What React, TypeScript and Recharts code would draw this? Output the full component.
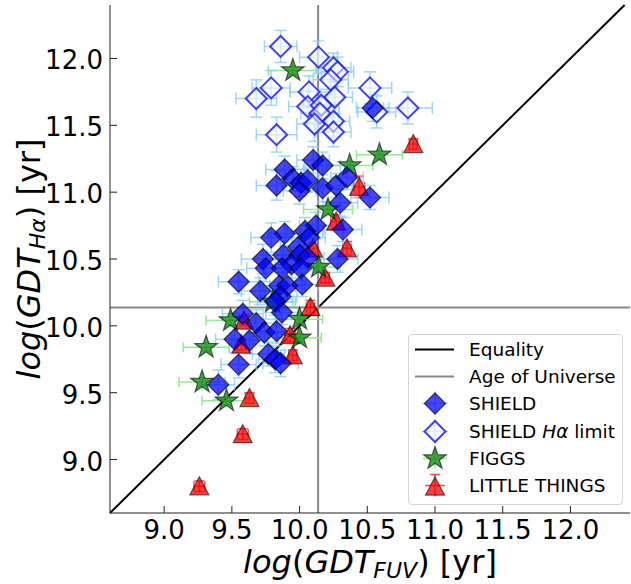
import React from "react";
import { ScatterChart, Scatter, XAxis, YAxis, ErrorBar, ReferenceLine, Legend } from "recharts";

const FONT = "DejaVu Sans, Verdana, sans-serif";

const xDomain = [8.6, 12.44];
const yDomain = [8.6, 12.4];
const xTicks = [9.0, 9.5, 10.0, 10.5, 11.0, 11.5, 12.0];
const yTicks = [9.0, 9.5, 10.0, 10.5, 11.0, 11.5, 12.0];
const ageOfUniverse = 10.137;
const equalityStart = { x: 8.6, y: 8.6 };
const equalityEnd = { x: 12.4, y: 12.4 };

// [logGDT_FUV, logGDT_Ha, errFUV, errHa]
const shield: number[][] = [
  [10.10, 11.24, 0.12, 0.10], [10.17, 11.20, 0.13, 0.10], [9.89, 11.17, 0.14, 0.10],
  [9.95, 11.10, 0.12, 0.09], [10.01, 11.07, 0.13, 0.10], [9.83, 11.05, 0.15, 0.11],
  [10.00, 11.01, 0.12, 0.10], [10.06, 11.09, 0.11, 0.09], [10.17, 11.03, 0.13, 0.10],
  [10.27, 11.05, 0.12, 0.09], [10.35, 11.11, 0.12, 0.09], [10.52, 10.96, 0.14, 0.09],
  [10.30, 10.92, 0.13, 0.10], [10.54, 11.63, 0.12, 0.10], [10.32, 10.72, 0.14, 0.09],
  [10.12, 10.75, 0.12, 0.10], [10.04, 10.71, 0.13, 0.10], [9.89, 10.69, 0.12, 0.09],
  [9.79, 10.66, 0.15, 0.11], [10.07, 10.66, 0.12, 0.10], [9.99, 10.59, 0.13, 0.10],
  [9.88, 10.53, 0.12, 0.10], [9.73, 10.50, 0.16, 0.11], [10.00, 10.53, 0.12, 0.10],
  [10.06, 10.51, 0.12, 0.09], [9.75, 10.43, 0.14, 0.10], [10.28, 10.50, 0.15, 0.10],
  [9.94, 10.46, 0.12, 0.10], [9.87, 10.43, 0.13, 0.10], [10.01, 10.43, 0.12, 0.09],
  [9.55, 10.33, 0.15, 0.09], [9.71, 10.26, 0.14, 0.10], [9.85, 10.30, 0.12, 0.10],
  [9.91, 10.30, 0.13, 0.10], [10.02, 10.31, 0.12, 0.09], [9.86, 10.22, 0.12, 0.10],
  [9.82, 10.18, 0.13, 0.10], [9.87, 10.10, 0.12, 0.09], [9.58, 10.09, 0.15, 0.10],
  [9.68, 10.02, 0.14, 0.10], [9.74, 9.95, 0.13, 0.10], [9.83, 9.96, 0.12, 0.09],
  [9.52, 9.90, 0.14, 0.10], [9.63, 9.89, 0.13, 0.10], [9.77, 9.79, 0.12, 0.09],
  [9.82, 9.75, 0.12, 0.10], [9.86, 9.72, 0.13, 0.10], [9.55, 9.71, 0.13, 0.10],
  [9.40, 9.56, 0.12, 0.11],
];

const shieldLimit: number[][] = [
  [9.86, 12.09, 0.12, 0.12], [10.14, 12.01, 0.14, 0.12], [10.25, 11.93, 0.13, 0.11],
  [10.28, 11.90, 0.12, 0.11], [10.23, 11.84, 0.13, 0.11], [9.79, 11.78, 0.14, 0.13],
  [9.68, 11.70, 0.15, 0.14], [10.07, 11.75, 0.14, 0.12], [10.26, 11.71, 0.13, 0.12],
  [10.52, 11.78, 0.16, 0.12], [10.06, 11.64, 0.14, 0.12], [10.16, 11.65, 0.13, 0.12],
  [10.15, 11.59, 0.14, 0.12], [10.11, 11.51, 0.13, 0.13], [10.25, 11.53, 0.12, 0.12],
  [10.25, 11.45, 0.13, 0.11], [9.83, 11.43, 0.15, 0.13], [10.80, 11.63, 0.18, 0.12],
  [10.57, 11.60, 0.14, 0.12],
];

const figgs: number[][] = [
  [9.95, 11.91, 0.18, 0.03], [10.59, 11.28, 0.17, 0.03], [10.37, 11.20, 0.17, 0.03],
  [10.21, 10.87, 0.18, 0.03], [10.14, 10.44, 0.16, 0.03], [9.80, 10.18, 0.17, 0.03],
  [9.49, 10.04, 0.18, 0.03], [10.00, 10.05, 0.17, 0.03], [10.00, 9.91, 0.16, 0.03],
  [9.31, 9.84, 0.17, 0.03], [9.28, 9.58, 0.17, 0.03], [9.46, 9.44, 0.18, 0.03],
];

const littleThings: number[][] = [
  [10.84, 11.36, 0.03, 0.04], [10.44, 11.04, 0.04, 0.08], [10.27, 10.78, 0.04, 0.05],
  [10.35, 10.58, 0.03, 0.05], [10.10, 10.58, 0.03, 0.04], [10.19, 10.36, 0.03, 0.04],
  [10.08, 10.14, 0.03, 0.05], [9.93, 9.93, 0.04, 0.05], [9.95, 9.78, 0.03, 0.04],
  [9.57, 9.86, 0.03, 0.04], [9.59, 10.04, 0.03, 0.04], [9.63, 9.46, 0.03, 0.04],
  [9.58, 9.19, 0.04, 0.04], [9.26, 8.80, 0.04, 0.04],
];

const toPoints = (rows: number[][]) => rows.map(([x, y, ex, ey]) => ({ x, y, ex, ey }));

const diamondPath = (cx: number, cy: number, r: number) =>
  `M${cx},${cy - r}L${cx + r},${cy}L${cx},${cy + r}L${cx - r},${cy}Z`;

const starPath = (cx: number, cy: number, R: number) => {
  const r = R * 0.39;
  let d = "";
  for (let i = 0; i < 10; i++) {
    const rad = i % 2 === 0 ? R : r;
    const a = (-90 + i * 36) * (Math.PI / 180);
    d += `${i === 0 ? "M" : "L"}${cx + rad * Math.cos(a)},${cy + rad * Math.sin(a)}`;
  }
  return d + "Z";
};

const trianglePath = (cx: number, cy: number, r: number) =>
  `M${cx},${cy - r}L${cx + r},${cy + r * 0.9}L${cx - r},${cy + r * 0.9}Z`;

const FilledDiamond = ({ cx, cy }: any) => (
  <path d={diamondPath(cx, cy, 10.5)} fill="#0000ff" fillOpacity={0.72} stroke="#000" strokeOpacity={0.65} strokeWidth={1.3} />
);
const OpenDiamond = ({ cx, cy }: any) => (
  <path d={diamondPath(cx, cy, 10.5)} fill="#ffffff" fillOpacity={0.55} stroke="#1f1fff" strokeOpacity={0.85} strokeWidth={2} />
);
const Star = ({ cx, cy }: any) => (
  <path d={starPath(cx, cy, 12)} fill="#008000" fillOpacity={0.72} stroke="#000" strokeOpacity={0.6} strokeWidth={1.2} />
);
const Triangle = ({ cx, cy }: any) => (
  <path d={trianglePath(cx, cy, 9.5)} fill="#ff0000" fillOpacity={0.75} stroke="#000" strokeOpacity={0.6} strokeWidth={1.2} />
);

const BottomTick = ({ x, y, payload }: any) => (
  <g>
    <line x1={x} y1={y} x2={x} y2={y - 7} stroke="#222" strokeWidth={1} />
    <text x={x} y={y + 26} textAnchor="middle" fontSize={26} fontFamily={FONT} fill="#000">
      {Number(payload.value).toFixed(1)}
    </text>
  </g>
);
const LeftTick = ({ x, y, payload }: any) => (
  <g>
    <line x1={x} y1={y} x2={x + 7} y2={y} stroke="#222" strokeWidth={1} />
    <text x={x - 7} y={y + 11} textAnchor="end" fontSize={26} fontFamily={FONT} fill="#000">
      {Number(payload.value).toFixed(1)}
    </text>
  </g>
);
const TopTick = ({ x, y }: any) => <line x1={x} y1={y} x2={x} y2={y + 7} stroke="#222" strokeWidth={1} />;
const RightTick = ({ x, y }: any) => <line x1={x} y1={y} x2={x - 7} y2={y} stroke="#222" strokeWidth={1} />;

const XTitle = () => (
  <text x={370} y={573} textAnchor="middle" fontSize={32} fontFamily={FONT} fill="#000">
    <tspan fontStyle="italic">log</tspan>
    <tspan>(</tspan>
    <tspan fontStyle="italic">GDT</tspan>
    <tspan fontStyle="italic" fontSize={22} dy={5}>FUV</tspan>
    <tspan dy={-5}>) [yr]</tspan>
  </text>
);
const YTitle = () => (
  <text x={0} y={0} transform="translate(40,259) rotate(-90)" textAnchor="middle" fontSize={32} fontFamily={FONT} fill="#000">
    <tspan fontStyle="italic">log</tspan>
    <tspan>(</tspan>
    <tspan fontStyle="italic">GDT</tspan>
    <tspan fontStyle="italic" fontSize={22} dy={5}>Hα</tspan>
    <tspan dy={-5}>) [yr]</tspan>
  </text>
);

const legendRows = [
  { key: "eq", label: "Equality" },
  { key: "age", label: "Age of Universe" },
  { key: "shield", label: "SHIELD" },
  { key: "limit", label: "SHIELD Hα limit" },
  { key: "figgs", label: "FIGGS" },
  { key: "lt", label: "LITTLE THINGS" },
];

const LegendIcon = ({ kind }: { kind: string }) => {
  const cx = 26, cy = 13.5;
  const blueBars = (
    <g stroke="#87cefa" strokeWidth={1.5} strokeOpacity={0.8}>
      <line x1={cx - 13} y1={cy} x2={cx + 13} y2={cy} />
      <line x1={cx} y1={cy - 12} x2={cx} y2={cy + 12} />
    </g>
  );
  return (
    <svg width={52} height={27} style={{ position: "absolute", left: 0, top: 0 }}>
      {kind === "eq" && <line x1={6} y1={cy} x2={45} y2={cy} stroke="#000" strokeWidth={2} />}
      {kind === "age" && <line x1={6} y1={cy} x2={45} y2={cy} stroke="#888" strokeWidth={2} />}
      {kind === "shield" && <>{blueBars}<FilledDiamond cx={cx} cy={cy} /></>}
      {kind === "limit" && <>{blueBars}<OpenDiamond cx={cx} cy={cy} /></>}
      {kind === "figgs" && (
        <>
          <g stroke="#90ee90" strokeWidth={1.5}>
            <line x1={cx - 12} y1={cy} x2={cx + 12} y2={cy} />
            <line x1={cx} y1={cy - 10} x2={cx} y2={cy + 10} />
          </g>
          <Star cx={cx} cy={cy} />
        </>
      )}
      {kind === "lt" && (
        <>
          <g stroke="#ff0000" strokeWidth={1.5} strokeOpacity={0.7}>
            <line x1={cx - 10} y1={cy} x2={cx + 10} y2={cy} />
            <line x1={cx} y1={cy - 11} x2={cx} y2={cy + 11} />
            <line x1={cx - 5} y1={cy - 11} x2={cx + 5} y2={cy - 11} />
          </g>
          <Triangle cx={cx} cy={cy + 1} />
        </>
      )}
    </svg>
  );
};

const LegendBox = () => (
  <div
    style={{
      width: 215, height: 171, boxSizing: "border-box", border: "1px solid #d4d4d4", borderRadius: 4,
      background: "rgba(255,255,255,0.85)", position: "relative", fontFamily: FONT, fontSize: 18.5, color: "#000",
    }}
  >
    {legendRows.map((row, i) => (
      <div key={row.key} style={{ position: "absolute", left: 0, top: 1 + i * 27.2, height: 27, width: 213 }}>
        <LegendIcon kind={row.key} />
        <div style={{ position: "absolute", left: 60, top: 0, lineHeight: "27px", whiteSpace: "nowrap" }}>
          {row.key === "limit" ? (
            <>SHIELD <i>Hα</i> limit</>
          ) : (
            row.label
          )}
        </div>
      </div>
    ))}
  </div>
);

export default function App() {
  return (
    <div style={{ width: 631, height: 584, position: "relative", background: "#fff" }}>
      <style>{"body{margin:0;}"}</style>
      <ScatterChart width={631} height={584} margin={{ top: 5, right: 1, bottom: 0, left: 0 }}>
        <XAxis
          xAxisId={0} dataKey="x" type="number" domain={xDomain} ticks={xTicks} allowDataOverflow interval={0}
          height={71} tickSize={0} tickMargin={0} tickLine={false} tick={<BottomTick />}
          axisLine={{ stroke: "#222", strokeWidth: 1 }} label={<XTitle />}
        />
        <XAxis
          xAxisId="top" orientation="top" dataKey="x" type="number" domain={xDomain} ticks={xTicks} allowDataOverflow
          interval={0} height={0} tickSize={0} tickMargin={0} tickLine={false} tick={<TopTick />}
          axisLine={{ stroke: "#222", strokeWidth: 1 }}
        />
        <YAxis
          yAxisId={0} dataKey="y" type="number" domain={yDomain} ticks={yTicks} allowDataOverflow interval={0}
          width={110} tickSize={0} tickMargin={0} tickLine={false} tick={<LeftTick />}
          axisLine={{ stroke: "#222", strokeWidth: 1 }} label={<YTitle />}
        />
        <YAxis
          yAxisId="right" orientation="right" dataKey="y" type="number" domain={yDomain} ticks={yTicks} allowDataOverflow
          interval={0} width={0} tickSize={0} tickMargin={0} tickLine={false} tick={<RightTick />}
          axisLine={{ stroke: "#222", strokeWidth: 1 }}
        />

        <ReferenceLine xAxisId={0} yAxisId={0} segment={[equalityStart, equalityEnd]} stroke="#000" strokeWidth={2} ifOverflow="visible" />
        <ReferenceLine xAxisId={0} yAxisId={0} x={ageOfUniverse} stroke="#888" strokeWidth={2} />
        <ReferenceLine xAxisId={0} yAxisId={0} y={ageOfUniverse} stroke="#888" strokeWidth={2} />

        <Scatter name="LITTLE THINGS" data={toPoints(littleThings)} shape={<Triangle />} isAnimationActive={false} xAxisId={0} yAxisId={0}>
          <ErrorBar dataKey="ex" direction="x" width={5} stroke="#ff0000" strokeOpacity={0.7} strokeWidth={1.5} />
          <ErrorBar dataKey="ey" direction="y" width={5} stroke="#ff0000" strokeOpacity={0.7} strokeWidth={1.5} />
        </Scatter>
        <Scatter name="FIGGS" data={toPoints(figgs)} shape={<Star />} isAnimationActive={false} xAxisId={0} yAxisId={0}>
          <ErrorBar dataKey="ex" direction="x" width={5} stroke="#90ee90" strokeWidth={1.5} />
          <ErrorBar dataKey="ey" direction="y" width={4} stroke="#90ee90" strokeWidth={1.5} />
        </Scatter>
        <Scatter name="SHIELD Hα limit" data={toPoints(shieldLimit)} shape={<OpenDiamond />} isAnimationActive={false} xAxisId={0} yAxisId={0}>
          <ErrorBar dataKey="ex" direction="x" width={6} stroke="#87cefa" strokeOpacity={0.8} strokeWidth={1.5} />
          <ErrorBar dataKey="ey" direction="y" width={6} stroke="#87cefa" strokeOpacity={0.8} strokeWidth={1.5} />
        </Scatter>
        <Scatter name="SHIELD" data={toPoints(shield)} shape={<FilledDiamond />} isAnimationActive={false} xAxisId={0} yAxisId={0}>
          <ErrorBar dataKey="ex" direction="x" width={6} stroke="#87cefa" strokeOpacity={0.8} strokeWidth={1.5} />
          <ErrorBar dataKey="ey" direction="y" width={6} stroke="#87cefa" strokeOpacity={0.8} strokeWidth={1.5} />
        </Scatter>

        <Legend
          layout="vertical" align="center" verticalAlign="middle"
          wrapperStyle={{ position: "absolute", left: 408, top: 334, width: 215, height: 171 }}
          content={() => <LegendBox />}
        />
      </ScatterChart>
    </div>
  );
}
